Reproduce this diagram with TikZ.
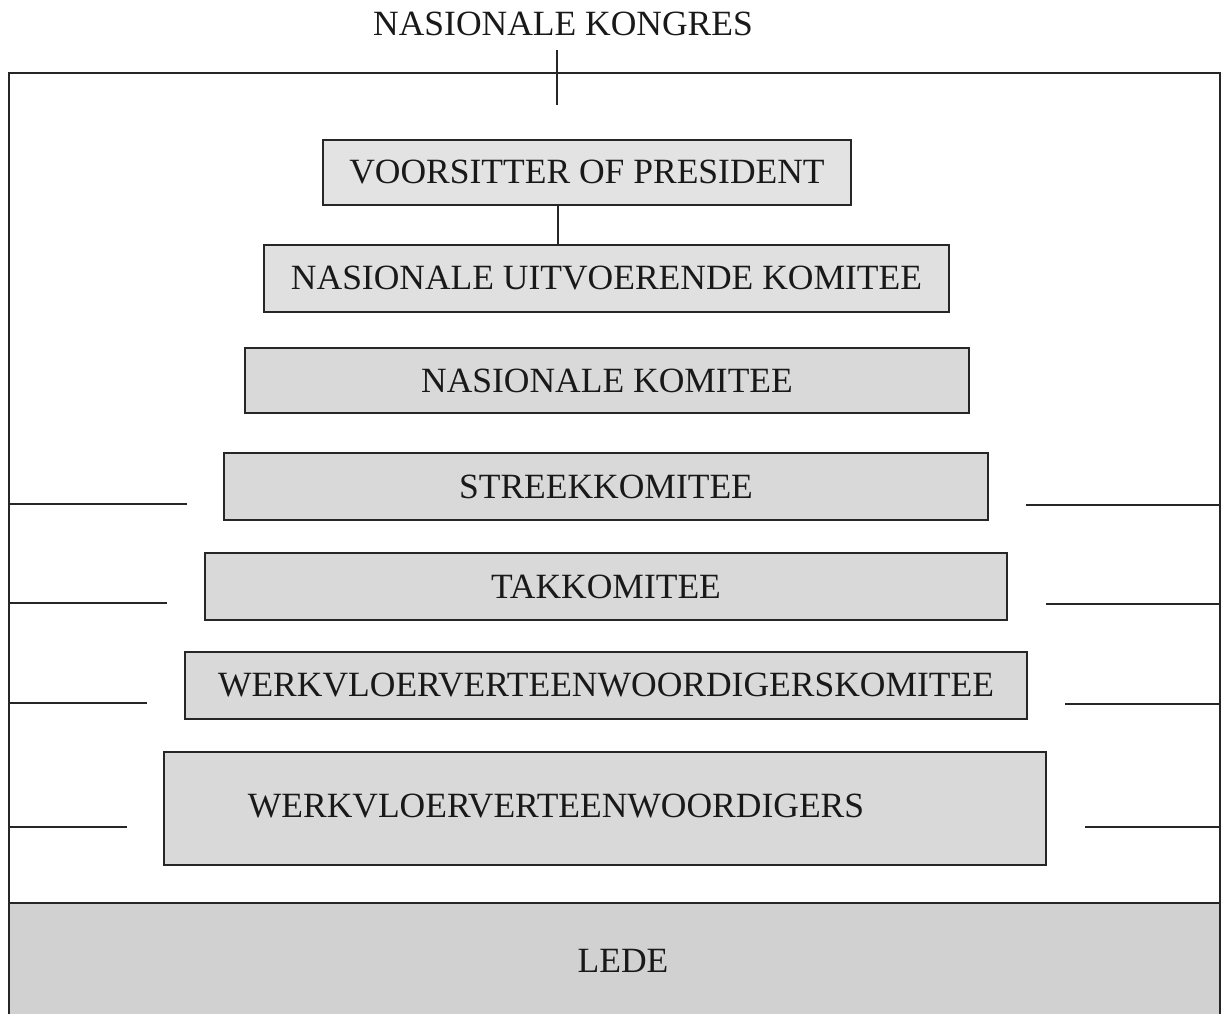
\documentclass[tikz,border=0pt]{standalone}
\usepackage{fontspec}
\setmainfont{Liberation Serif}
\begin{document}
\begin{tikzpicture}[x=1pt,y=-1pt,
  rule/.style={draw=black!85,line width=1.6pt},
  txt/.style={font=\fontsize{35.5}{42}\selectfont,text=black!90,inner sep=0pt},
  tier/.style={rule,fill=gray!30,txt,minimum width=#1},
  tier/.default=500pt]
\useasboundingbox (0,0) rectangle (1221,1014);

% membership band at the base
\fill[gray!36] (9,903) rectangle (1220,1016);
\draw[rule] (9,903) -- (1220,903);
\node[txt] (lede) at (623,961) {LEDE};

% outer frame
\draw[rule] (9,1016) -- (9,73) -- (1220,73) -- (1220,1016);

% congress heading and its stem
\node[txt] (kongres) at (563,24) {NASIONALE KONGRES};
\coordinate (stemtop) at (557,50);
\coordinate (stembot) at (557,105);
\draw[rule] (stemtop) -- (stembot);

% tiers of the structure
\node[tier=528pt,minimum height=65pt,fill=gray!22] (pres) at (587,172.5) {VOORSITTER OF PRESIDENT};
\node[tier=685pt,minimum height=67pt,fill=gray!24] (nuk) at (606.5,278.5) {NASIONALE UITVOERENDE KOMITEE};
\node[tier=724pt,minimum height=65pt] (nk) at (607,380.5) {NASIONALE KOMITEE};
\node[tier=764pt,minimum height=67pt] (streek) at (606,486.5) {STREEKKOMITEE};
\node[tier=802pt,minimum height=67pt] (tak) at (606,586.5) {TAKKOMITEE};
\node[tier=842pt,minimum height=67pt] (wvk) at (606,685.5) {WERKVLOERVERTEENWOORDIGERSKOMITEE};
\node[tier=882pt,minimum height=113pt] (wv) at (605,808.5) {};
\node[txt] (wvtext) at (556,806) {WERKVLOERVERTEENWOORDIGERS};

% link between president and executive
\coordinate (link) at (558,0);
\draw[rule] (pres.south -| link) -- (nuk.north -| link);

% side rules, left
\coordinate (l1a) at (9,504);  \coordinate (l1b) at (187,504);
\coordinate (l2a) at (9,603);  \coordinate (l2b) at (167,603);
\coordinate (l3a) at (9,703);  \coordinate (l3b) at (147,703);
\coordinate (l4a) at (9,827);  \coordinate (l4b) at (127,827);
% side rules, right
\coordinate (r1a) at (1026,505); \coordinate (r1b) at (1220,505);
\coordinate (r2a) at (1046,604); \coordinate (r2b) at (1220,604);
\coordinate (r3a) at (1065,704); \coordinate (r3b) at (1220,704);
\coordinate (r4a) at (1085,827); \coordinate (r4b) at (1220,827);
\foreach \s in {l1,l2,l3,l4,r1,r2,r3,r4}
  \draw[rule] (\s a) -- (\s b);
\end{tikzpicture}
\end{document}
